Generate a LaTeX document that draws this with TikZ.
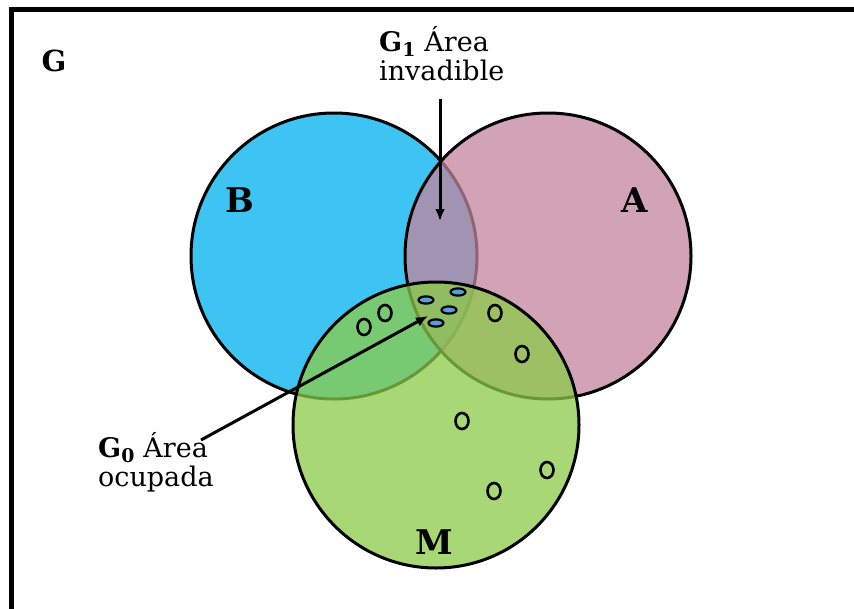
\documentclass[tikz,border=0pt]{standalone}
\usepackage{fontspec}
\setmainfont{DejaVu Serif}
\usetikzlibrary{arrows.meta}
\definecolor{cB}{RGB}{62,196,242}
\definecolor{cA}{RGB}{195,131,157}
\definecolor{cM}{RGB}{139,203,72}
\definecolor{cDot}{RGB}{85,160,215}
\begin{document}
\begin{tikzpicture}[x=1pt,y=-1pt,
  circ/.style={line width=3pt, draw=black},
  openmark/.style={line width=2.6pt, draw=black},
  dotmark/.style={line width=2.2pt, draw=black, fill=cDot},
  arr/.style={line width=3pt, -{Latex[length=12pt,width=10pt]}},
  lab/.style={font=\bfseries\fontsize{34}{40}\selectfont, inner sep=0pt},
  note/.style={font=\fontsize{27}{29}\selectfont, align=left, inner sep=0pt}]
\useasboundingbox (0,0) rectangle (854,608);
\fill[white] (0,0) rectangle (854,608);
\begin{scope}
  \clip (0,0) rectangle (854,608);
  \draw[line width=5pt] (11,9.5) rectangle (900,700);
\end{scope}
% circles
\draw[circ, fill=cB] (334,256) circle[radius=143pt];
\draw[circ, fill=cA, fill opacity=0.75] (548,256) circle[radius=143pt];
\draw[circ, fill=cM, fill opacity=0.75] (436,425) circle[radius=143pt];
% open marks
\foreach \p in {(364,327),(385,313),(495,313),(522,354),(462,421),(547,470),(494,491)}
  \draw[openmark] \p ellipse[x radius=6.5pt, y radius=8pt];
% filled marks
\foreach \p in {(426,300),(458,292),(449,310),(436,323)}
  \draw[dotmark] \p ellipse[x radius=7.5pt, y radius=3.6pt];
% labels
\node[lab, font=\bfseries\fontsize{29}{32}\selectfont] (G) at (54,61) {G};
\node[lab] (Bl) at (240,200) {B};
\node[lab] (Al) at (635,200) {A};
\node[lab] (Ml) at (434,542) {M};
\node[note, anchor=base west] (g1) at (379,80) {\textbf{G\textsubscript{1}} Área\\invadible};
\node[note, anchor=base west] (g0) at (98,486) {\textbf{G\textsubscript{0}} Área\\ocupada};
% arrows
\coordinate (g1s) at (440,99);
\coordinate (g1t) at (440,221);
\draw[arr] (g1s) -- (g1t);
\coordinate (g0s) at (201,440);
\coordinate (g0t) at (428,316);
\draw[arr] (g0s) -- (g0t);
\end{tikzpicture}
\end{document}
